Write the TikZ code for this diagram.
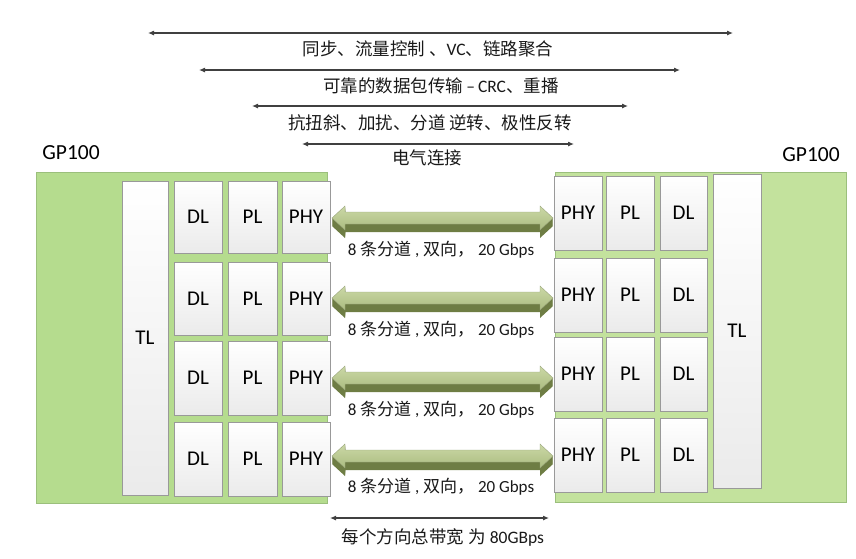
\documentclass[tikz,border=0pt]{standalone}
\usepackage{fontspec}
\setmainfont{Carlito}
\newfontfamily\cjk{Noto Sans CJK SC}
\usetikzlibrary{arrows.meta,calc}
\definecolor{gL}{HTML}{B5DC8E}
\definecolor{gR}{HTML}{C3E29D}
\definecolor{gEdge}{HTML}{9BBF7C}
\definecolor{aFrontT}{HTML}{CBD8A6}
\definecolor{aFrontB}{HTML}{ABBC80}
\definecolor{aDark}{HTML}{6E7D44}
\definecolor{lineC}{HTML}{404040}
\newcommand\barrowpath[4]{%
  \path[#4] let \p1=(#1), \p2=(#2) in
    (\x1,\y1-#3) -- (\x1+13pt,\y1+12pt-#3) -- (\x1+13pt,\y1+6pt-#3)
    -- (\x2-13pt,\y1+6pt-#3) -- (\x2-13pt,\y1+12pt-#3) -- (\x2,\y1-#3)
    -- (\x2-13pt,\y1-12pt-#3) -- (\x2-13pt,\y1-6pt-#3) -- (\x1+13pt,\y1-6pt-#3)
    -- (\x1+13pt,\y1-12pt-#3) -- cycle;}
\newcommand\barrow[2]{%
  \foreach \d in {1,...,8}{\barrowpath{#1}{#2}{\d pt}{fill=aDark}}
  \barrowpath{#1}{#2}{0pt}{top color=aFrontT,bottom color=aFrontB,draw=aDark!70,line width=0.4pt}}
\begin{document}
\begin{tikzpicture}[x=1pt,y=-1pt,
  gbox/.style={draw=gEdge,line width=0.8pt,inner sep=0pt},
  blk/.style={draw=black!40,line width=0.6pt,top color=white,bottom color=black!8,
    inner sep=0pt,font=\fontsize{21}{25}\selectfont},
  lbl/.style={inner sep=0pt,font=\fontsize{17.5}{21}\selectfont,text=black!90},
  lanelbl/.style={inner sep=0pt,font=\fontsize{17}{20}\selectfont,text=black!90},
  thin arrow/.style={{Latex[length=6pt,width=5pt]}-{Latex[length=6pt,width=5pt]},draw=lineC,line width=1.1pt}]
\useasboundingbox (0,0) rectangle (856,558);

% green boards
\node[gbox,fill=gL,minimum width=291pt,minimum height=331pt] (lgp) at (181.5,337.5) {};
\node[gbox,fill=gR,minimum width=291pt,minimum height=330pt] (rgp) at (700.5,337) {};
\node[inner sep=0pt,font=\fontsize{21.5}{25}\selectfont] (lgpl) at (71,153) {GP100};
\node[inner sep=0pt,font=\fontsize{21.5}{25}\selectfont] (rgpl) at (811,155) {GP100};

% left stack
\node[blk,minimum width=46pt,minimum height=314pt] (ltl) at (145,338) {TL};
\foreach \r/\cy/\h in {1/217/72,2/298.5/73,3/378/74,4/459/74}{
  \node[blk,minimum width=48pt,minimum height=\h pt] (l\r dl) at (198,\cy) {DL};
  \node[blk,minimum width=49pt,minimum height=\h pt] (l\r pl) at (252.5,\cy) {PL};
  \node[blk,minimum width=48pt,minimum height=\h pt] (l\r phy) at (306,\cy) {PHY};
}
% right stack
\node[blk,minimum width=48pt,minimum height=314pt] (rtl) at (737,331) {TL};
\foreach \r/\cy in {1/213,2/295,3/374,4/455}{
  \node[blk,minimum width=48pt,minimum height=74pt] (r\r phy) at (578,\cy) {PHY};
  \node[blk,minimum width=48pt,minimum height=74pt] (r\r pl) at (630,\cy) {PL};
  \node[blk,minimum width=47pt,minimum height=74pt] (r\r dl) at (683.5,\cy) {DL};
}

% lane arrows
\foreach \r/\ay/\ly in {1/218/250,2/298/330,3/378/410,4/456/487}{
  \coordinate (a\r) at (332,\ay);
  \coordinate (b\r) at (553,\ay);
  \barrow{a\r}{b\r}
  \node[lanelbl] (lane\r) at (441,\ly) {8 {\cjk 条分道} , {\cjk 双向，} 20 Gbps};
}

% top protocol arrows
\coordinate (t1a) at (148,33);  \coordinate (t1b) at (733,33);
\coordinate (t2a) at (199,70);  \coordinate (t2b) at (680,70);
\coordinate (t3a) at (252,106); \coordinate (t3b) at (628,106);
\coordinate (t4a) at (302,144); \coordinate (t4b) at (574,144);
\draw[thin arrow] (t1a) -- (t1b);
\draw[thin arrow] (t2a) -- (t2b);
\draw[thin arrow] (t3a) -- (t3b);
\draw[thin arrow] (t4a) -- (t4b);
\node[lbl] (t1l) at (428,49) {{\cjk 同步、流量控制 、}VC{\cjk 、链路聚合}};
\node[lbl] (t2l) at (441,86) {{\cjk 可靠的数据包传输}\,–\,CRC{\cjk 、重播}};
\node[lbl] (t3l) at (430,123) {\cjk 抗扭斜、加扰、分道 逆转、极性反转};
\node[lbl] (t4l) at (427,158) {\cjk 电气连接};

% bottom total bandwidth
\coordinate (ba) at (330,518); \coordinate (bb) at (549,518);
\draw[thin arrow] (ba) -- (bb);
\node[lbl] (bl) at (443,537) {{\cjk 每个方向总带宽 为} 80GBps};
\end{tikzpicture}
\end{document}
